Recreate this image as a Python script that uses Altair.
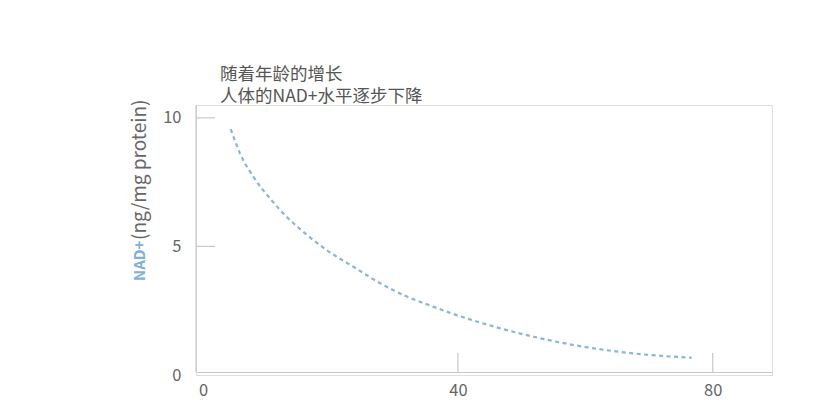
import altair as alt
import pandas as pd

# ---- data ----
age = [4.35, 5.8, 7.9, 10.5, 13.1, 16.3, 19.4, 23.6, 27.8, 32.0, 36.1, 39.8,
       46.6, 52.9, 59.7, 67.5, 76.7]
nad = [9.56, 8.62, 7.71, 6.87, 6.16, 5.45, 4.86, 4.21, 3.57, 3.05, 2.66, 2.33,
       1.82, 1.43, 1.10, 0.84, 0.67]

x_ticks = [0, 40, 80]
y_ticks = [0, 5, 10]
x_inner_ticks = [40, 80]
y_inner_ticks = [5, 10]

title_lines = ["随着年龄的增长", "人体的NAD+水平逐步下降"]
y_title_main = "NAD+"
y_title_unit = "(ng/mg protein)"

FONT = "Noto Sans CJK SC"
AXIS_COLOR = "#c8c8c8"
LABEL_COLOR = "#666666"
LINE_COLOR = "#8cb4d9"

W, H = 576, 270

curve_df = pd.DataFrame({"age": age, "nad": nad})
xs = alt.Scale(domain=[-1.1, 89.3], nice=False, zero=False)
ys = alt.Scale(domain=[0, 10.5], nice=False, zero=False)

curve = alt.Chart(curve_df).mark_line(
    color=LINE_COLOR, strokeWidth=2.2, strokeDash=[4, 3.5], interpolate="monotone"
).encode(
    x=alt.X("age:Q", scale=xs,
            axis=alt.Axis(values=x_ticks, title=None, grid=False, ticks=False,
                          domainColor=AXIS_COLOR, domainWidth=1.2, offset=-3,
                          labelFont=FONT, labelFontSize=16.5, labelColor=LABEL_COLOR,
                          labelPadding=18, labelBaseline="middle")),
    y=alt.Y("nad:Q", scale=ys,
            axis=alt.Axis(values=y_ticks, title=None, grid=False, ticks=False,
                          domain=False, labelFont=FONT, labelFontSize=16.5,
                          labelColor=LABEL_COLOR, labelPadding=15)),
)

# y axis line (ends at the x axis line)
y_line = alt.Chart(pd.DataFrame({"v": [0]})).mark_rule(
    color=AXIS_COLOR, strokeWidth=1.2
).encode(x=alt.value(0), y=alt.value(0), y2=alt.value(H - 3))

# inward ticks
yt = alt.Chart(pd.DataFrame({"v": y_inner_ticks})).mark_rule(
    color=AXIS_COLOR, strokeWidth=1.2
).encode(y=alt.Y("v:Q", scale=ys), x=alt.value(0), x2=alt.value(19))

xt = alt.Chart(pd.DataFrame({"v": x_inner_ticks})).mark_rule(
    color=AXIS_COLOR, strokeWidth=1.2
).encode(x=alt.X("v:Q", scale=xs), y=alt.value(H - 3 - 19), y2=alt.value(H - 3))

# title lines
titles = alt.Chart(pd.DataFrame({"t": [title_lines[0]]})).mark_text(
    font=FONT, fontSize=17.5, color="#555555", align="left", baseline="middle"
).encode(text="t:N", x=alt.value(24), y=alt.value(-30))
titles2 = alt.Chart(pd.DataFrame({"t": [title_lines[1]]})).mark_text(
    font=FONT, fontSize=17.5, color="#555555", align="left", baseline="middle"
).encode(text="t:N", x=alt.value(24), y=alt.value(-8.5))

# y title in two colours
yt_main = alt.Chart(pd.DataFrame({"t": [y_title_main]})).mark_text(
    font=FONT, fontSize=15, fontWeight="bold", color="#7fb0d8",
    align="left", baseline="middle", angle=270
).encode(text="t:N", x=alt.value(-56), y=alt.value(176))
yt_unit = alt.Chart(pd.DataFrame({"t": [y_title_unit]})).mark_text(
    font=FONT, fontSize=19, color="#666666",
    align="left", baseline="middle", angle=270
).encode(text="t:N", x=alt.value(-56), y=alt.value(135))

chart = alt.layer(curve, y_line, yt, xt, titles, titles2, yt_main, yt_unit).properties(
    width=W, height=H,
    autosize=alt.AutoSizeParams(type="none"),
    padding={"left": 188, "top": 97, "right": 36, "bottom": 27},
).configure_view(stroke=None).configure(background="white")

chart.save("out.html", embed_options={"renderer": "svg", "actions": False})
